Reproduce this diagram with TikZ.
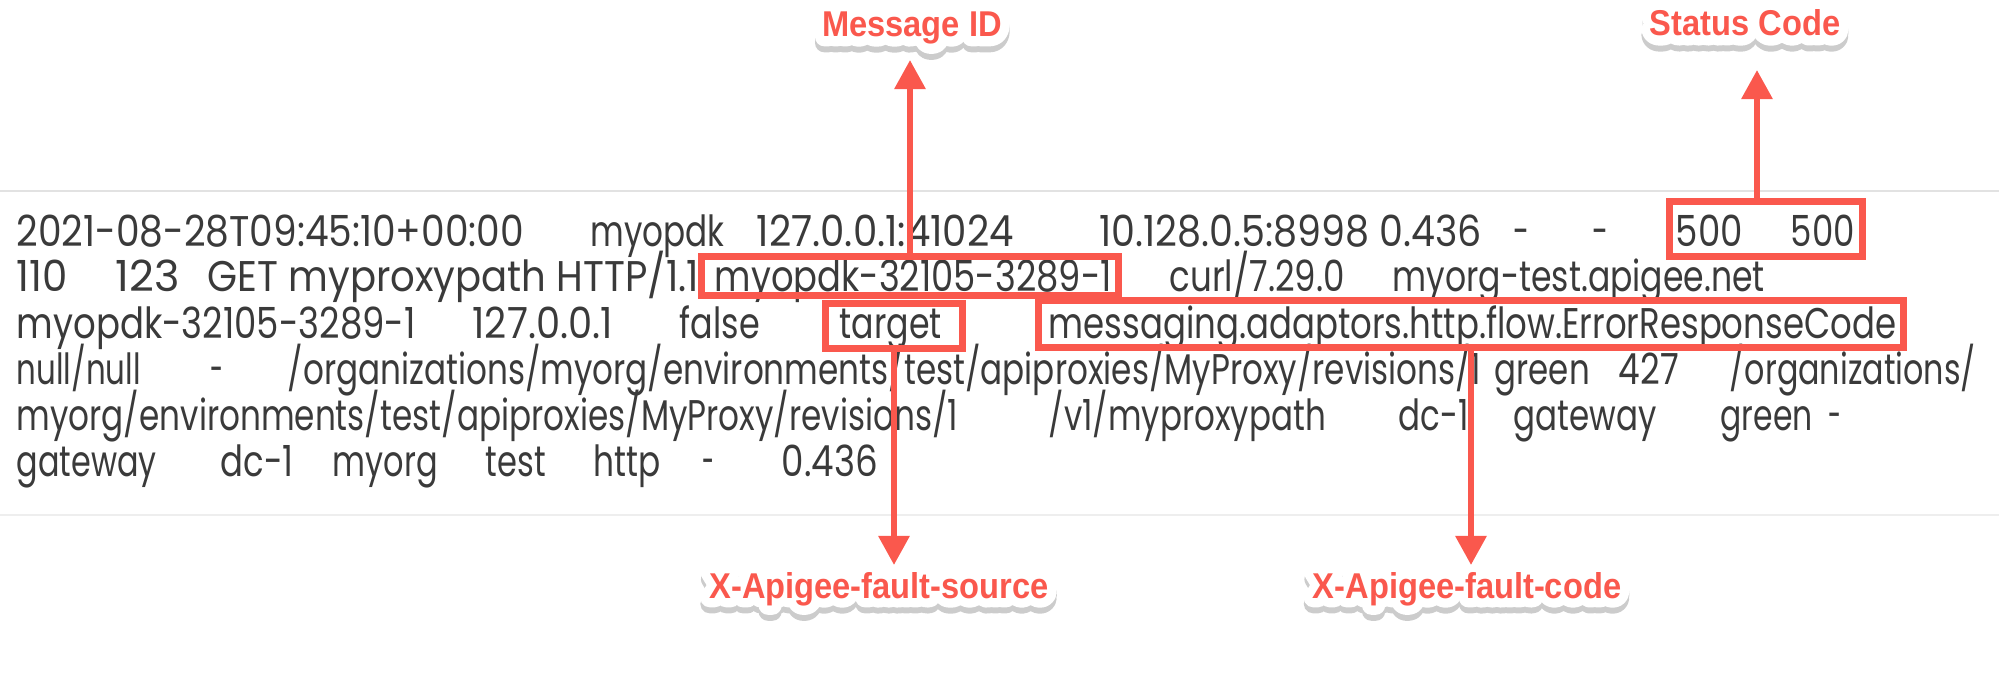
\documentclass[tikz,border=0pt]{standalone}
\usepackage{fontspec}
\usepackage{xcolor}
\usetikzlibrary{positioning, arrows.meta}
\setmainfont{Poppins}
\newfontfamily\calloutfont{Liberation Sans Bold}[FakeStretch=0.91]
\newfontfamily\halofont{Liberation Sans Bold}[FakeStretch=0.91, FakeBold=52]
\newfontfamily\shadefont{Liberation Sans Bold}[FakeStretch=0.91, FakeBold=52]
\definecolor{logtext}{RGB}{58,58,58}
\definecolor{callred}{RGB}{250,88,77}
\definecolor{rulegray}{RGB}{226,226,226}
% red callout text on a white halo with a soft grey shadow
\newcommand{\sticker}[1]{\makebox[0pt][l]{\raisebox{-0.06cm}{\textcolor{black!20}{\shadefont #1}}}\makebox[0pt][l]{\textcolor{white}{\halofont #1}}#1}
% squeeze a log field to the width it takes in the screenshot
\newlength{\logwd}
\newcommand{\logfit}[2]{\settowidth{\logwd}{#2}\pgfmathsetmacro{\logsx}{#1/\logwd}\scalebox{\logsx}[1]{#2}}

\begin{document}
\begin{tikzpicture}[
            x=0.01cm, y=-0.01cm,
            logword/.style={anchor=base west, inner sep=0, text=logtext, font=\fontsize{12.2pt}{14pt}\selectfont},
            hlbox/.style={draw=callred, line width=0.07cm, inner sep=0},
            callout/.style={anchor=base, inner sep=0, line join=round, text=callred, font=\calloutfont\fontsize{10.2pt}{12pt}\selectfont},
            pointer/.style={draw=callred, line width=0.06cm, -{Triangle[width=0.3cm, length=0.29cm]}},
        ]
            \useasboundingbox (0,0) rectangle (1999,691);
            % rules above and below the log entry
            \draw[rulegray, line width=0.02cm] (0,191) -- (1999,191);
            \draw[rulegray!60, line width=0.02cm] (0,515) -- (1999,515);

            % line 1
            \node[logword] (stamp) at (16,247) {\logfit{5.07cm}{2021-08-28T09:45:10+00:00}};
            \node[logword] (proxyone) at (590,247) {\logfit{1.34cm}{myopdk}};
            \node[logword] (client) at (756,247) {\logfit{2.57cm}{127.0.0.1:41024}};
            \node[logword] (upstream) at (1099,247) {\logfit{3.82cm}{10.128.0.5:8998 0.436}};
            \node[logword] (dashone) at (1513,247) {\logfit{0.16cm}{-}};
            \node[logword] (dashtwo) at (1592,247) {\logfit{0.16cm}{-}};
            \node[logword] (codeone) at (1675,247) {\logfit{0.67cm}{500}};
            \node[logword] (codetwo) at (1790,247) {\logfit{0.64cm}{500}};

            % line 2
            \node[logword] (sizeone) at (16,292) {\logfit{0.51cm}{110}};
            \node[logword] (sizetwo) at (115,292) {\logfit{0.64cm}{123}};
            \node[logword] (request) at (207,292) {\logfit{4.91cm}{GET myproxypath HTTP/1.1}};
            \node[logword] (msgid) at (714,292) {\logfit{3.97cm}{myopdk-32105-3289-1}};
            \node[logword] (agent) at (1169,292) {\logfit{1.75cm}{curl/7.29.0}};
            \node[logword] (vhost) at (1392,292) {\logfit{3.72cm}{myorg-test.apigee.net}};

            % line 3
            \node[logword] (msgidtwo) at (16,338) {\logfit{3.99cm}{myopdk-32105-3289-1}};
            \node[logword] (local) at (472,338) {\logfit{1.40cm}{127.0.0.1}};
            \node[logword] (flag) at (679,338) {\logfit{0.80cm}{false}};
            \node[logword] (source) at (839,338) {\logfit{1.02cm}{target}};
            \node[logword] (fault) at (1048,338) {\logfit{8.47cm}{messaging.adaptors.http.flow.ErrorResponseCode}};

            % line 4
            \node[logword] (nulls) at (16,384) {\logfit{1.24cm}{null/null}};
            \node[logword] (dashthree) at (210,384) {\logfit{0.13cm}{-}};
            \node[logword] (pathone) at (287,384) {\logfit{11.93cm}{/organizations/myorg/environments/test/apiproxies/MyProxy/revisions/1}};
            \node[logword] (colorone) at (1494,384) {\logfit{0.95cm}{green}};
            \node[logword] (latency) at (1618,384) {\logfit{0.60cm}{427}};
            \node[logword] (pathtwo) at (1729,384) {\logfit{2.46cm}{/organizations/}};

            % line 5
            \node[logword] (pathrest) at (16,430) {\logfit{9.41cm}{myorg/environments/test/apiproxies/MyProxy/revisions/1}};
            \node[logword] (basepath) at (1048,430) {\logfit{2.77cm}{/v1/myproxypath}};
            \node[logword] (dcone) at (1398,430) {\logfit{0.70cm}{dc-1}};
            \node[logword] (podone) at (1513,430) {\logfit{1.43cm}{gateway}};
            \node[logword] (colortwo) at (1720,430) {\logfit{0.92cm}{green}};
            \node[logword] (dashfour) at (1828,430) {\logfit{0.13cm}{-}};

            % line 6
            \node[logword] (podtwo) at (16,476) {\logfit{1.40cm}{gateway}};
            \node[logword] (dctwo) at (220,476) {\logfit{0.73cm}{dc-1}};
            \node[logword] (orgname) at (332,476) {\logfit{1.05cm}{myorg}};
            \node[logword] (envname) at (485,476) {\logfit{0.60cm}{test}};
            \node[logword] (scheme) at (593,476) {\logfit{0.67cm}{http}};
            \node[logword] (dashfive) at (702,476) {\logfit{0.12cm}{-}};
            \node[logword] (total) at (781,476) {\logfit{0.96cm}{0.436}};

            % highlight boxes
            \node[hlbox, minimum width=4.17cm, minimum height=0.39cm] (msgbox) at (910,276) {};
            \node[hlbox, minimum width=1.92cm, minimum height=0.54cm] (statusbox) at (1766,229) {};
            \node[hlbox, minimum width=1.37cm, minimum height=0.44cm] (sourcebox) at (894,326) {};
            \node[hlbox, minimum width=8.65cm, minimum height=0.47cm] (faultbox) at (1471,324) {};

            % callouts
            \node[callout] (msglabel) at (912,37) {\sticker{Message ID}};
            \node[callout] (statuslabel) at (1745,36) {\sticker{Status Code}};
            \node[callout] (sourcelabel) at (879,598) {\sticker{X-Apigee-fault-source}};
            \node[callout] (faultlabel) at (1467,598) {\sticker{X-Apigee-fault-code}};

            \draw[pointer, shorten >=0.23cm] (msgbox.north) -- (msgbox.north |- msglabel.base);
            \draw[pointer, shorten >=0.34cm] ([xshift=-0.09cm]statusbox.north) -- ([xshift=-0.09cm]statusbox.north |- statuslabel.base);
            \draw[pointer, shorten >=0.33cm] (sourcebox.south) -- (sourcebox.south |- sourcelabel.base);
            \draw[pointer, shorten >=0.33cm] (faultbox.south) -- (faultbox.south |- faultlabel.base);
        \end{tikzpicture}
\end{document}
